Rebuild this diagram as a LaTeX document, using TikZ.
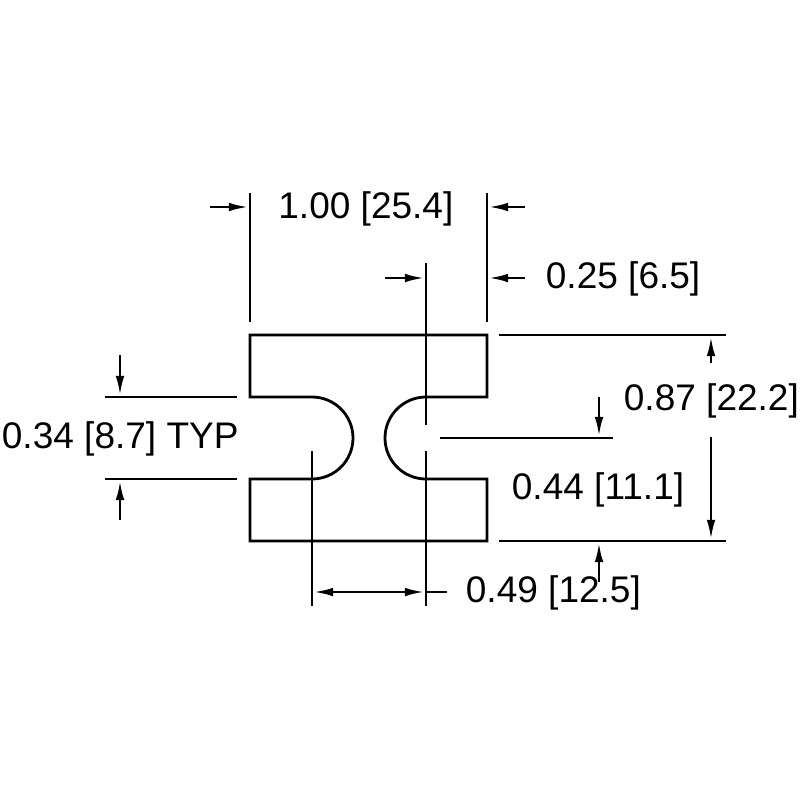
\documentclass[tikz,border=0pt]{standalone}
\usepackage{fontspec}
\setmainfont{Liberation Sans}
\usetikzlibrary{arrows.meta}

\begin{document}
\begin{tikzpicture} [x=0.01cm, y=-0.01cm, line width=0.028cm, line join=miter,
                    pijl/.style={-{Latex[length=0.2cm,width=0.085cm]}},
                    mitta/.style={anchor=base west,inner sep=0pt,font=\fontsize{10.53}{12}\selectfont}]

\useasboundingbox (0,0) rectangle (800,800);

% outline of the part
\draw (250,335) -- (487,335) -- (487,397) -- (426,397)
    arc[start angle=270,end angle=90,radius=41] -- (487,479) -- (487,541)
    -- (250,541) -- (250,479) -- (312,479)
    arc[start angle=90,end angle=-90,radius=41] -- (250,397) -- cycle;

% dimension texts
\node[mitta] (W) at (277,218) {1.00 [25.4]};
\node[mitta] (S) at (544.5,288) {0.25 [6.5]};
\node[mitta] (H) at (622.5,410) {0.87 [22.2]};
\node[mitta] (G) at (0.5,448) {0.34 [8.7] TYP};
\node[mitta] (C) at (510.5,499) {0.44 [11.1]};
\node[mitta] (D) at (464.5,602) {0.49 [12.5]};

% extension line ends
\coordinate (LT) at (250,193);
\coordinate (LB) at (250,322);
\coordinate (RT) at (487,193);
\coordinate (RB) at (487,322);
\coordinate (MT) at (426,263);
\coordinate (MM) at (426,425);
\coordinate (M2T) at (426,451);
\coordinate (M2B) at (426,606);
\coordinate (CT) at (312,451);
\coordinate (CB) at (312,606);
\coordinate (GT1) at (105,397);
\coordinate (GT2) at (237,397);
\coordinate (GB1) at (105,479);
\coordinate (GB2) at (237,479);
\coordinate (HT1) at (499,335);
\coordinate (HT2) at (726,335);
\coordinate (HB1) at (499,541);
\coordinate (HB2) at (726,541);
\coordinate (K1) at (440,438);
\coordinate (K2) at (613,438);

% arrow ends
\coordinate (A1) at (210,207);
\coordinate (A2) at (249,207);
\coordinate (A3) at (525,207);
\coordinate (A4) at (488,207);
\coordinate (A5) at (385,278);
\coordinate (A6) at (425,278);
\coordinate (A7) at (525,278);
\coordinate (A8) at (488,278);
\coordinate (A9) at (120,355);
\coordinate (A10) at (120,396);
\coordinate (A11) at (120,520);
\coordinate (A12) at (120,480);
\coordinate (A13) at (711,363);
\coordinate (A14) at (711,336);
\coordinate (A15) at (711,437);
\coordinate (A16) at (711,540);
\coordinate (A17) at (599,397);
\coordinate (A18) at (599,437);
\coordinate (A19) at (599,582);
\coordinate (A20) at (599,542);
\coordinate (A21) at (369,592);
\coordinate (A22) at (313,592);
\coordinate (A23) at (425,592);
\coordinate (A24) at (447,592);

 \path[draw]
    (LT) edge (LB)
    (RT) edge (RB)
    (MT) edge (MM)
    (M2T) edge (M2B)
    (CT) edge (CB)
    (GT1) edge (GT2)
    (GB1) edge (GB2)
    (HT1) edge (HT2)
    (HB1) edge (HB2)
    (K1) edge (K2)
    (A23) edge (A24);

 \path[pijl]
    (A1) edge (A2)
    (A3) edge (A4)
    (A5) edge (A6)
    (A7) edge (A8)
    (A9) edge (A10)
    (A11) edge (A12)
    (A13) edge (A14)
    (A15) edge (A16)
    (A17) edge (A18)
    (A19) edge (A20)
    (A21) edge (A22)
    (A21) edge (A23);
\end{tikzpicture}
\end{document}
